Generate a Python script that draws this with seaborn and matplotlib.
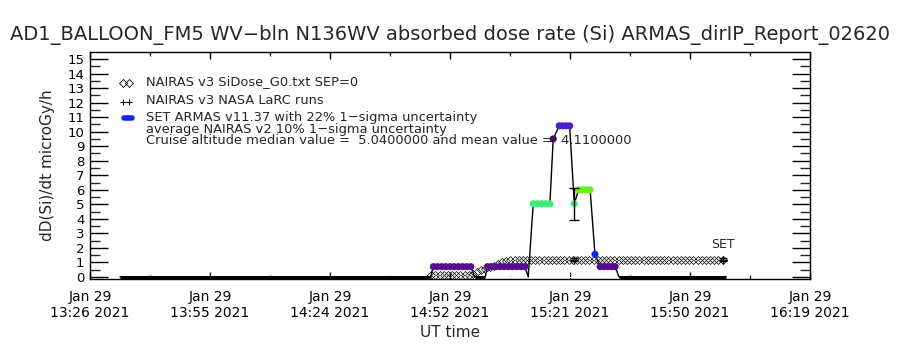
import numpy as np
import pandas as pd
import matplotlib
matplotlib.use("Agg")
import matplotlib.pyplot as plt
import matplotlib.dates as mdates
from matplotlib.ticker import MultipleLocator, FixedLocator
import seaborn as sns

DAY = "2021-01-29 "

# ---------------- data ----------------
# SET ARMAS v11.37 (time UT, dose rate microGy/h, colour class)
armas_time = [
    "13:33:12", "14:47:50",
    "14:48:30", "14:49:30", "14:50:30", "14:51:30", "14:52:30",
    "14:53:30", "14:54:30", "14:55:30", "14:56:30", "14:57:30",
    "14:58:24", "15:00:58",
    "15:01:30", "15:02:30", "15:03:30", "15:04:30", "15:05:30",
    "15:06:30", "15:07:30", "15:08:30", "15:09:30", "15:10:30",
    "15:11:18",
    "15:12:30", "15:13:30", "15:14:30", "15:15:30", "15:16:30",
    "15:17:18",
    "15:18:45", "15:19:35", "15:20:25", "15:21:15",
    "15:22:22",
    "15:23:25", "15:24:20", "15:25:15", "15:26:10",
    "15:27:20",
    "15:28:35", "15:29:29", "15:30:23", "15:31:17", "15:32:11",
    "15:33:06", "15:58:48",
]
armas_dose = [
    0.0, 0.0,
    0.71, 0.71, 0.71, 0.71, 0.71, 0.71, 0.71, 0.71, 0.71, 0.71,
    0.0, 0.0,
    0.71, 0.71, 0.71, 0.71, 0.71, 0.71, 0.71, 0.71, 0.71, 0.71,
    0.0,
    5.04, 5.04, 5.04, 5.04, 5.04,
    9.5,
    10.4, 10.4, 10.4, 10.4,
    5.05,
    6.0, 6.0, 6.0, 6.0,
    1.56,
    0.71, 0.71, 0.71, 0.71, 0.71,
    0.0, 0.0,
]
armas_class = [
    "zero", "zero",
    "purple", "purple", "purple", "purple", "purple",
    "purple", "purple", "purple", "purple", "purple",
    "zero", "zero",
    "purple", "purple", "purple", "purple", "purple",
    "purple", "purple", "purple", "purple", "purple",
    "zero",
    "mint", "mint", "mint", "mint", "mint",
    "dark",
    "indigo", "indigo", "indigo", "indigo",
    "mint",
    "lime", "lime", "lime", "lime",
    "blue",
    "purple", "purple", "purple", "purple", "purple",
    "zero", "zero",
]

# NAIRAS v3 SiDose_G0.txt SEP=0 (one value per minute)
sidose_time = [
    "14:48", "14:49", "14:50", "14:51", "14:52", "14:53", "14:54", "14:55", "14:56", "14:57",
    "14:58", "14:59", "15:00", "15:01", "15:02", "15:03", "15:04", "15:05", "15:06",
    "15:07", "15:08", "15:09", "15:10", "15:11", "15:12", "15:13", "15:14", "15:15", "15:16",
    "15:17", "15:18", "15:19", "15:20", "15:21", "15:22", "15:23", "15:24", "15:25", "15:26",
    "15:27", "15:28", "15:29", "15:30", "15:31", "15:32", "15:33", "15:34", "15:35", "15:36",
    "15:37", "15:38", "15:39", "15:40", "15:41", "15:42", "15:43", "15:44", "15:45", "15:46",
    "15:47", "15:48", "15:49", "15:50", "15:51", "15:52", "15:53", "15:54", "15:55", "15:56",
    "15:57", "15:58",
]
sidose_dose = [
    0.14, 0.14, 0.14, 0.14, 0.14, 0.14, 0.14, 0.14, 0.14, 0.14,
    0.22, 0.33, 0.45, 0.56, 0.67, 0.78, 0.89, 1.0, 1.1,
    1.2, 1.2, 1.2, 1.2, 1.2, 1.2, 1.2, 1.2, 1.2, 1.2,
    1.2, 1.2, 1.2, 1.2, 1.2, 1.2, 1.2, 1.2, 1.2, 1.2,
    1.2, 1.2, 1.2, 1.2, 1.2, 1.2, 1.2, 1.2, 1.2, 1.2,
    1.2, 1.2, 1.2, 1.2, 1.2, 1.2, 1.2, 1.2, 1.2, 1.2,
    1.2, 1.2, 1.2, 1.2, 1.2, 1.2, 1.2, 1.2, 1.2, 1.2,
    1.2, 1.2,
]

# NAIRAS v3 NASA LaRC runs (one value per minute)
larc_time = [
    "13:34", "13:35", "13:36", "13:37", "13:38", "13:39", "13:40", "13:41", "13:42", "13:43",
    "13:44", "13:45", "13:46", "13:47", "13:48", "13:49", "13:50", "13:51", "13:52", "13:53",
    "13:54", "13:55", "13:56", "13:57", "13:58", "13:59", "14:00", "14:01", "14:02", "14:03",
    "14:04", "14:05", "14:06", "14:07", "14:08", "14:09", "14:10", "14:11", "14:12", "14:13",
    "14:14", "14:15", "14:16", "14:17", "14:18", "14:19", "14:20", "14:21", "14:22", "14:23",
    "14:24", "14:25", "14:26", "14:27", "14:28", "14:29", "14:30", "14:31", "14:32", "14:33",
    "14:34", "14:35", "14:36", "14:37", "14:38", "14:39", "14:40", "14:41", "14:42", "14:43",
    "14:44", "14:45", "14:46", "14:47", "14:48", "14:49", "14:50", "14:51", "14:52", "14:53",
    "14:54", "14:55", "14:56", "14:57", "14:58", "14:59", "15:00", "15:01", "15:02", "15:03",
    "15:04", "15:05", "15:06", "15:07", "15:08", "15:09", "15:10", "15:11", "15:12", "15:13",
    "15:14", "15:15", "15:16", "15:17", "15:18", "15:19", "15:20", "15:21", "15:22", "15:23",
    "15:24", "15:25", "15:26", "15:27", "15:28", "15:29", "15:30", "15:31", "15:32", "15:33",
]
larc_dose = [
    0.0, 0.0, 0.0, 0.0, 0.0, 0.0, 0.0, 0.0, 0.0, 0.0,
    0.0, 0.0, 0.0, 0.0, 0.0, 0.0, 0.0, 0.0, 0.0, 0.0,
    0.0, 0.0, 0.0, 0.0, 0.0, 0.0, 0.0, 0.0, 0.0, 0.0,
    0.0, 0.0, 0.0, 0.0, 0.0, 0.0, 0.0, 0.0, 0.0, 0.0,
    0.0, 0.0, 0.0, 0.0, 0.0, 0.0, 0.0, 0.0, 0.0, 0.0,
    0.0, 0.0, 0.0, 0.0, 0.0, 0.0, 0.0, 0.0, 0.0, 0.0,
    0.0, 0.0, 0.0, 0.0, 0.0, 0.0, 0.0, 0.0, 0.0, 0.0,
    0.0, 0.0, 0.0, 0.0, 0.0, 0.0, 0.0, 0.0, 0.0, 0.0,
    0.0, 0.0, 0.0, 0.0, 0.0, 0.0, 0.0, 0.0, 0.0, 0.0,
    0.0, 0.0, 0.0, 0.0, 0.0, 0.0, 0.0, 0.0, 0.0, 0.0,
    0.0, 0.0, 0.0, 0.0, 0.0, 0.0, 0.0, 0.0, 0.0, 0.0,
    0.0, 0.0, 0.0, 0.0, 0.0, 0.0, 0.0, 0.0, 0.0, 0.0,
]

# cruise altitude median with 22% 1-sigma uncertainty
cruise_time = ["15:22:22"]
cruise_dose = [5.04]
cruise_sigma = [1.11]

# average NAIRAS v2 with 10% 1-sigma uncertainty
v2_time = ["15:22:22", "15:58:06"]
v2_dose = [1.2, 1.2]
v2_sigma = [0.12, 0.12]
v2_label = ["", "SET"]

xtick_time = ["13:26:00", "13:54:50", "14:23:40", "14:52:30",
              "15:21:20", "15:50:10", "16:19:00"]
xtick_label = ["Jan 29\n13:26 2021", "Jan 29\n13:55 2021", "Jan 29\n14:24 2021",
               "Jan 29\n14:52 2021", "Jan 29\n15:21 2021", "Jan 29\n15:50 2021",
               "Jan 29\n16:19 2021"]
ytick_values = [0, 1, 2, 3, 4, 5, 6, 7, 8, 9, 10, 11, 12, 13, 14, 15]

title = "AD1_BALLOON_FM5 WV\u2212bln N136WV absorbed dose rate (Si) ARMAS_dirIP_Report_02620"
legend_lines = [
    "NAIRAS v3 SiDose_G0.txt SEP=0",
    "NAIRAS v3 NASA LaRC runs",
    "SET ARMAS v11.37 with 22% 1\u2212sigma uncertainty",
    "average NAIRAS v2 10% 1\u2212sigma uncertainty",
    "Cruise altitude median value =  5.0400000 and mean value =  4.1100000",
]

palette = {"purple": "#580c90", "indigo": "#4a20cc", "dark": "#3e0b50",
           "mint": "#3cee78", "lime": "#6cee1e", "blue": "#1426e8", "zero": "black"}


def to_dt(times):
    return pd.to_datetime([DAY + t for t in times])


# ---------------- figure ----------------
sns.set_theme(style="ticks")
plt.rcParams["font.family"] = ["DejaVu Sans"]

fig = plt.figure(figsize=(9, 3.5), dpi=100)
ax = fig.add_axes([90 / 900, 71 / 350, 720 / 900, 227 / 350])

armas = pd.DataFrame({"time": to_dt(armas_time), "dose": armas_dose, "cls": armas_class})
sidose = pd.DataFrame({"time": to_dt(sidose_time), "dose": sidose_dose})
larc = pd.DataFrame({"time": to_dt(larc_time), "dose": larc_dose})

# LaRC runs: plus markers
sns.lineplot(data=larc, x="time", y="dose", ax=ax, estimator=None, sort=False,
             linestyle="none", marker="+", markersize=5.6, markeredgewidth=0.7,
             color="black", zorder=2)

# ARMAS connecting line
sns.lineplot(data=armas, x="time", y="dose", ax=ax, estimator=None, sort=False,
             color="black", linewidth=1.0, zorder=3)
# zero-valued ARMAS stretches drawn heavier
zero_df = armas.assign(dose=armas["dose"].where(armas["cls"] == "zero"))
ax.plot(zero_df["time"].to_numpy(), zero_df["dose"].to_numpy(), color="black",
        linewidth=2.2, solid_capstyle="butt", zorder=4)

# SiDose diamonds
sns.lineplot(data=sidose, x="time", y="dose", ax=ax, estimator=None, sort=False,
             linestyle="none", marker="D", markersize=4.2, markerfacecolor="none",
             markeredgecolor="black", markeredgewidth=0.5, color="black", zorder=3)

# ARMAS coloured points
nz = armas[armas["cls"] != "zero"]
sns.scatterplot(data=nz, x="time", y="dose", hue="cls", palette=palette, ax=ax,
                s=26, linewidth=0, legend=False, zorder=5)

# error bars
ax.errorbar(to_dt(cruise_time), cruise_dose, yerr=cruise_sigma, fmt="none",
            ecolor="black", elinewidth=1.0, capsize=3.3, capthick=1.0, zorder=6)
ax.errorbar(to_dt(v2_time), v2_dose, yerr=v2_sigma, fmt="+", color="black",
            markersize=6, markeredgewidth=1.0, elinewidth=1.0, capsize=2.6,
            capthick=1.0, zorder=6)
for t, d, lab in zip(to_dt(v2_time), v2_dose, v2_label):
    if lab:
        ax.text(t, d + 1.05, lab, ha="center", va="center", fontsize=9)

# axes styling
x0 = pd.Timestamp(DAY + xtick_time[0])
x1 = pd.Timestamp(DAY + xtick_time[-1])
ax.set_xlim(x0, x1)
ax.set_ylim(-0.14, 15.48)
ax.xaxis.set_major_locator(FixedLocator(mdates.date2num(to_dt(xtick_time))))
ax.set_xticklabels(xtick_label, fontsize=10, linespacing=1.15)
ax.xaxis.set_minor_locator(FixedLocator(
    mdates.date2num(to_dt(xtick_time[:-1])) +
    np.diff(mdates.date2num(to_dt(xtick_time))) / 2))
ax.set_yticks(ytick_values)
ax.set_yticklabels([str(v) for v in ytick_values], fontsize=9.5)
ax.yaxis.set_minor_locator(MultipleLocator(0.5))
ax.tick_params(axis="x", which="major", direction="in", length=5, width=1,
               top=True, bottom=True, pad=8, colors="black")
ax.tick_params(axis="x", which="minor", direction="in", length=3, width=1,
               top=True, bottom=True)
ax.tick_params(axis="y", which="major", direction="in", length=13, width=1,
               left=True, right=True, pad=4, colors="black")
ax.tick_params(axis="y", which="minor", direction="in", length=7, width=1,
               left=True, right=True)
for sp in ax.spines.values():
    sp.set_color("black")
    sp.set_linewidth(1.0)
    sp.set_visible(True)
ax.set_xlabel("UT time", fontsize=11, labelpad=4)
ax.set_ylabel("dD(Si)/dt microGy/h", fontsize=11, labelpad=9)
ax.grid(False)

fig.text(0.5, 1 - 35 / 350, title, ha="center", va="center", fontsize=14)

# legend block
def ax_xy(px, py):
    return (px - 90) / 720, (279 - py) / 227

leg_y = [82, 100, 118, 130, 141]
for line, py in zip(legend_lines, leg_y):
    x, y = ax_xy(146, py)
    ax.text(x, y, line, transform=ax.transAxes, fontsize=9.4, va="center", ha="left")
for px in (123, 129):
    x, y = ax_xy(px, 83)
    ax.plot([x], [y], transform=ax.transAxes, marker="D", markersize=4.0,
            markerfacecolor="none", markeredgecolor="black", markeredgewidth=0.6)
    x, y = ax_xy(px, 102)
    ax.plot([x], [y], transform=ax.transAxes, marker="+", markersize=5,
            markeredgewidth=0.8, color="black")
xa, ya = ax_xy(124, 118)
xb, yb = ax_xy(132, 118)
ax.plot([xa, xb], [ya, yb], transform=ax.transAxes, color="#1426e8",
        linewidth=4, solid_capstyle="round")

fig.savefig("out.png", dpi=100, facecolor="white")
